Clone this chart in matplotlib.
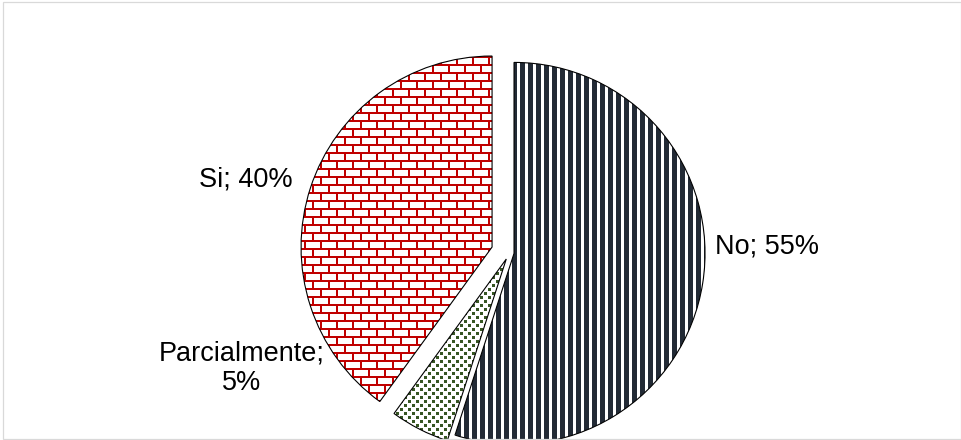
import matplotlib
matplotlib.use("Agg")
import matplotlib.pyplot as plt
import numpy as np
from matplotlib.patches import Rectangle

plt.rcParams['font.family'] = ['Liberation Sans', 'DejaVu Sans']

# datos
categorias = ["No", "Parcialmente", "Si"]
valores = [55, 5, 40]
etiquetas = ["No; 55%", "Parcialmente;\n5%", "Si; 40%"]
explode = [0.024, 0.037, 0.096]

W, H = 962, 440
R = 191.0              # radio del pastel en pixeles
cx, cy = 509.5, 252.7  # centro en pixeles (desde arriba)

fig = plt.figure(figsize=(W / 100, H / 100), dpi=100)
ax = fig.add_axes([0, 0, 1, 1])

wedges, _ = ax.pie(valores, explode=explode, startangle=90, counterclock=False,
                   wedgeprops=dict(facecolor='none', edgecolor='black', linewidth=0.8))

xlim = (-cx / R, (W - cx) / R)
ylim = (-(H - cy) / R, cy / R)
ax.set_xlim(*xlim)
ax.set_ylim(*ylim)
ax.set_aspect('auto')
ax.axis('off')

# texturas (tramas de relleno)
yy, xx = np.mgrid[0:H, 0:W]

def textura(mask, color):
    img = np.ones((H, W, 4))
    c = matplotlib.colors.to_rgb(color)
    for k in range(3):
        img[..., k] = np.where(mask, c[k], 1.0)
    return img

# rayas verticales
rayas = (xx % 8) < 5
# ladrillos
fila = yy // 8
ladrillo = ((yy % 8) < 2) | (((xx + 8 * (fila % 2)) % 16) < 2)
# confeti
cuadros = (((yy // 4) + (xx // 4)) % 2 == 0) & ((yy % 4) < 3) & ((xx % 4) < 3)

tramas = [textura(rayas, '#222a35'), textura(cuadros, '#375623'), textura(ladrillo, '#c00000')]

for w, t in zip(wedges, tramas):
    w.set_zorder(3)
    im = ax.imshow(t, extent=(xlim[0], xlim[1], ylim[0], ylim[1]), origin='upper',
                   interpolation='nearest', zorder=2, aspect='auto')
    im.set_clip_path(w)

# etiquetas
fs = 19.5
ax.text((715 - cx) / R, (cy - 253.3) / R, etiquetas[0], ha='left', va='baseline', fontsize=fs)
ax.text((293 - cx) / R, (cy - 186) / R, etiquetas[2], ha='right', va='baseline', fontsize=fs)
ax.text((242 - cx) / R, (cy - 390) / R, etiquetas[1], ha='center', va='baseline',
        multialignment='center', fontsize=fs, linespacing=1.2)

# borde del area del grafico
fig.patches.append(Rectangle((2.5 / W, 1.0 / H), (961 - 2.5) / W, (437.5 - 1.0) / H,
                             transform=fig.transFigure, fill=False,
                             edgecolor='#d9d9d9', linewidth=0.9, zorder=10))

fig.savefig("out.png", dpi=100)
